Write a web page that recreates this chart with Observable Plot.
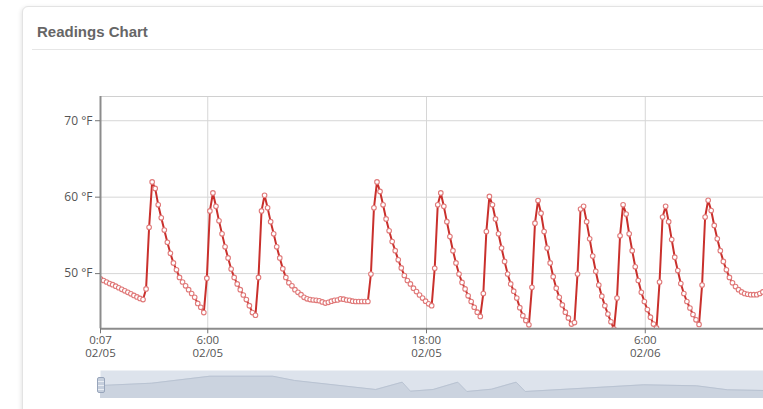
<!DOCTYPE html>
<html>
<head>
<meta charset="utf-8">
<script src="https://cdn.jsdelivr.net/npm/d3@7"></script>
<script src="https://cdn.jsdelivr.net/npm/@observablehq/plot@0.6"></script>
<style>
  html, body { margin: 0; padding: 0; background: #fff; }
  body { width: 763px; height: 409px; overflow: hidden; position: relative; font-family: "Open Sans", sans-serif; }
  #card { position: absolute; left: 22px; top: 6px; width: 820px; height: 430px; border: 1px solid #e3e3e3; border-radius: 6px; box-shadow: -1px 1px 4px rgba(0,0,0,0.10); background: #fff; }
  #title { position: absolute; left: 37px; top: 22px; font: bold 15px "Liberation Sans", Arial, sans-serif; color: #666; line-height: 20px; white-space: nowrap; }
  #sep { position: absolute; left: 32px; top: 49px; width: 780px; height: 1px; background: #e6e6e6; }
  #main { position: absolute; left: 0; top: 0; width: 800px; }
  #nav { position: absolute; left: 0; top: 370px; width: 800px; }
  #main svg, #nav svg { max-width: none !important; display: block; }
  #handle { position: absolute; left: 97px; top: 377px; width: 6px; height: 14px; border: 1px solid #98a5bb; border-radius: 2px;
            background: repeating-linear-gradient(to bottom, #c6cfdd 0px, #c6cfdd 3px, #e9edf3 3px, #e9edf3 4px); }
</style>
</head>
<body>
<div id="card"></div>
<div id="title">Readings Chart</div>
<div id="sep"></div>
<div id="main"></div>
<div id="nav"></div>
<div id="handle"></div>
<script>
// ---- data ----
const startTime = "2024-02-05 00:07";
const intervalMinutes = 10;
const temperatures = [
  49.3, 49.1, 48.9, 48.7, 48.55, 48.35, 48.15, 47.95, 47.75, 47.55, 47.35, 47.15, 46.95, 46.75, 46.6,
  48.0, 56.05, 62.0,
  61.15, 59.0, 57.3, 55.7, 54.1, 52.65, 51.4, 50.5, 49.5, 48.9, 48.4, 47.9, 47.4, 46.9, 46.1, 45.6, 44.9, 49.4, 58.2,
  60.55,
  58.8, 56.9, 55.2, 53.5, 52.05, 50.6, 49.5, 48.65, 47.9, 47.2, 46.6, 45.8, 44.9, 44.55, 49.5, 58.2,
  60.25,
  58.6, 56.8, 55.2, 53.5, 52.05, 50.65, 49.5, 48.8, 48.4, 47.9, 47.55, 47.25, 46.9, 46.7, 46.6, 46.55, 46.5, 46.45,
  46.3, 46.15, 46.25, 46.4, 46.5, 46.55, 46.7, 46.65, 46.55, 46.5, 46.4, 46.35, 46.35, 46.35, 46.35, 46.35, 49.95, 58.6,
  62.0,
  60.75, 59.0, 57.15, 55.6, 54.2, 53.0, 51.8, 50.75, 49.75, 49.1, 48.65, 48.1, 47.65, 47.2, 46.8, 46.4, 46.05, 45.8, 50.7, 59.0,
  60.55,
  58.8, 56.8, 54.85, 53.0, 51.4, 49.95, 48.85, 48.0, 47.1, 46.35, 45.6, 44.95, 44.4, 47.4, 55.5,
  60.1,
  59.0, 57.15, 55.2, 53.35, 51.6, 49.95, 48.65, 47.7, 46.8, 45.55, 44.5, 43.85, 43.3, 48.2, 56.6,
  59.55,
  57.9, 55.5, 53.35, 51.4, 49.6, 48.1, 46.9, 45.9, 44.95, 44.2, 43.4, 43.6, 49.95, 58.45,
  58.8,
  56.8, 54.55, 52.3, 50.3, 48.5, 47.05, 45.8, 44.7, 43.7, 42.75, 46.8, 54.95,
  59.0,
  57.8, 55.2, 53.0, 50.9, 49.1, 47.55, 46.35, 45.3, 44.3, 43.4, 42.9, 48.9, 57.4,
  58.8,
  56.8, 54.45, 52.15, 50.4, 48.7, 47.4, 46.35, 45.5, 44.65, 43.95, 43.35, 48.5, 57.4,
  59.6,
  58.25, 56.3, 54.55, 53.0, 51.6, 50.5, 49.5, 48.8, 48.3, 47.9, 47.6, 47.4, 47.3, 47.25, 47.25, 47.25, 47.4, 47.6, 47.8
];
const visibleHours = 37.85;
const tickTimes = ["2024-02-05 00:07", "2024-02-05 06:00", "2024-02-05 18:00", "2024-02-06 06:00"];
const yTicks = [50, 60, 70];
const yDomain = [42.78, 73.17];

// navigator series (hours from start, value)
const navHours  = [0, 2.8, 6.0, 9.45, 10.65, 15.1, 16.55, 17.0, 18.25, 19.6, 20.1, 21.45, 22.8, 23.3, 29.8, 32.7, 34.4, 36.4, 37.85];
const navValues = [50.5, 51.65, 55.15, 55.15, 53.0, 48.5, 52.15, 47.65, 48.5, 52.15, 47.5, 48.65, 52.15, 47.5, 50.85, 50.35, 48.35, 48.0, 48.0];
const navDomain = [44, 58];

// ---- build ----
const parse = d3.timeParse("%Y-%m-%d %H:%M");
const t0 = parse(startTime);
const HOUR = 3600e3;
const readings = temperatures.map((v, i) => ({ time: new Date(+t0 + i * intervalMinutes * 60e3), temp: v }));
const xDomain = [t0, new Date(+t0 + visibleHours * HOUR)];
const ticks = tickTimes.map(parse);
const fmtT = d3.timeFormat("%-H:%M"), fmtD = d3.timeFormat("%m/%d");
const nav = navHours.map((h, i) => ({ time: new Date(+t0 + h * HOUR), value: navValues[i] }));

const main = Plot.plot({
  width: 800, height: 365,
  marginLeft: 100, marginRight: 10, marginTop: 96, marginBottom: 36.7,
  style: { fontFamily: "'Open Sans', sans-serif", fontSize: "12px", color: "#555", background: "transparent", overflow: "visible", maxWidth: "none" },
  x: { type: "time", domain: xDomain },
  y: { domain: yDomain },
  marks: [
    Plot.gridY(yTicks, { stroke: "#d6d6d6", strokeOpacity: 1 }),
    Plot.gridX(ticks.slice(1), { stroke: "#d6d6d6", strokeOpacity: 1 }),
    Plot.ruleY([yDomain[1]], { stroke: "#d0d0d0" }),
    Plot.line(readings, { x: "time", y: "temp", stroke: "#c9302c", strokeWidth: 2, clip: true }),
    Plot.dot(readings, { x: "time", y: "temp", r: 2.3, fill: "#fff", stroke: "#e07a7a", strokeWidth: 1.1, clip: true }),
    Plot.ruleX([xDomain[0]], { stroke: "#8c8c8c", strokeWidth: 2 }),
    Plot.ruleY([yDomain[0]], { stroke: "#8c8c8c", strokeWidth: 2 }),
    Plot.axisY(yTicks, { tickSize: 5, tickPadding: 3, tickFormat: d => `${d} °F`, stroke: "#777", fill: "#555", label: null }),
    Plot.axisX(ticks, { tickSize: 5, tickPadding: 2, tickFormat: fmtT, stroke: "#777", fill: "#555", fontSize: 11.5, label: null }),
    Plot.axisX(ticks, { tickSize: 0, tickPadding: 20, tickFormat: fmtD, fill: "#555", fontSize: 11.5, label: null })
  ]
});
document.getElementById("main").appendChild(main);

const navPlot = Plot.plot({
  width: 800, height: 28,
  marginLeft: 100, marginRight: 10, marginTop: 0, marginBottom: 0,
  style: { background: "transparent", maxWidth: "none" },
  x: { type: "time", domain: xDomain, axis: null },
  y: { domain: navDomain, axis: null },
  marks: [
    Plot.frame({ fill: "#dde3ec", stroke: "none" }),
    Plot.areaY(nav, { x: "time", y: "value", fill: "#cbd3df", clip: true }),
    Plot.line(nav, { x: "time", y: "value", stroke: "#b9c3d2", strokeWidth: 1, clip: true })
  ]
});
document.getElementById("nav").appendChild(navPlot);
</script>
</body>
</html>
